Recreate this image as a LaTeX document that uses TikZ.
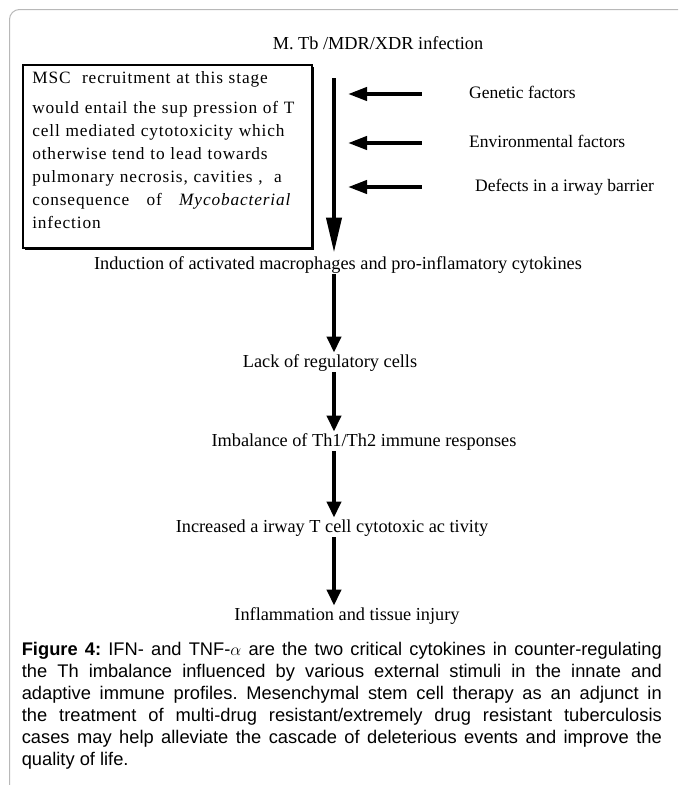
\documentclass[tikz,border=0pt]{standalone}
\usepackage{fontspec}
\setmainfont{Liberation Serif}
\newfontfamily\capfont{Liberation Sans}
\newfontfamily\boxfont[LetterSpace=5]{Liberation Serif}
\usetikzlibrary{arrows.meta,shadows}

\tikzset{
	flowtext/.style={inner sep=0pt, text height=12.5pt, text depth=4pt, font=\fontsize{18.3}{21}\selectfont},
	sidetext/.style={flowtext, anchor=west, font=\fontsize{17.5}{21}\selectfont},
	mscbox/.style={draw, fill=white, line width=1.6pt, anchor=north west, text width=270pt, inner xsep=9.5pt, inner ysep=6.5pt, align=left,
		drop shadow={shadow xshift=2.2pt, shadow yshift=-2.2pt, fill=black, opacity=1},
		font=\boxfont\fontsize{17.3}{23}\selectfont},
	captext/.style={anchor=north west, inner sep=0pt, text width=640pt, align=justify,
		font=\capfont\fontsize{18.3}{22}\selectfont},
	flowarrow/.style={line width=4pt, -{Triangle[length=16pt,width=14pt]}, shorten <=1pt, shorten >=2pt},
	sidearrow/.style={line width=4pt, -{Triangle[length=19pt,width=13pt]}}
}

\begin{document}
\begin{tikzpicture}[x=1pt,y=-1pt]
			%%%%% START %%%%%
			\useasboundingbox (0,0) rectangle (678,785);
			\clip (0,0) rectangle (678,785);
			
			% outer frame
			\draw[black!28, line width=1pt, rounded corners=10pt] (9.5,9.5) rectangle (700,800);
			
			\node[flowtext] (title) at (378,45) {M. Tb /MDR/XDR infection};
			
			\node[mscbox] (msc) at (22,64) {\hyphenpenalty=10000 MSC\ \ recruitment at this stage\\[7pt]
				would entail the sup pression of T\\
				cell mediated cytotoxicity which\\
				otherwise tend to lead towards\\
				pulmonary necrosis, cavities ,\ \ a\\
				consequence\ \ \ of\ \ \ \textit{Mycobacterial}\\
				infection\\[-10pt]\mbox{}};
			
			\node[sidetext] (genetic) at (469,94) {Genetic factors};
			\node[sidetext] (environ) at (469,143) {Environmental factors};
			\node[sidetext] (defects) at (475,187) {Defects in a irway barrier};
			
			\node[flowtext] (induction) at (338,265) {Induction of activated macrophages and pro-inflamatory cytokines};
			\node[flowtext] (lack) at (330,363) {Lack of regulatory cells};
			\node[flowtext] (imbalance) at (364,442) {Imbalance of Th1/Th2 immune responses};
			\node[flowtext] (increased) at (332,528) {Increased a irway T cell cytotoxic ac tivity};
			\node[flowtext] (inflam) at (347,616) {Inflammation and tissue injury};
			
			\coordinate (spine) at (334,0);
			\coordinate (tipx) at (348,0);
			\coordinate (tailx) at (421.5,0);
			
			\draw[flowarrow, -{Triangle[length=35pt,width=15pt]}, shorten <=25pt, shorten >=4pt] (title.south -| spine) -- (induction.north -| spine);
			\draw[flowarrow] (induction.south -| spine) -- (lack.north -| spine);
			\draw[flowarrow] (lack.south -| spine) -- (imbalance.north -| spine);
			\draw[flowarrow] (imbalance.south -| spine) -- (increased.north -| spine);
			\draw[flowarrow] (increased.south -| spine) -- (inflam.north -| spine);
			
			\draw[sidearrow] (genetic.west -| tailx) -- (genetic.west -| tipx);
			\draw[sidearrow] (environ.west -| tailx) -- (environ.west -| tipx);
			\draw[sidearrow] (defects.west -| tailx) -- (defects.west -| tipx);
			
			\node[captext] (caption) at (21.6,642) {\hyphenpenalty=10000 \exhyphenpenalty=10000 \frenchspacing
				\textbf{Figure 4:} IFN- and TNF-$\alpha$ are the two critical cytokines in counter-regulating\linebreak
				the Th imbalance influenced by various external stimuli in the innate and\linebreak
				adaptive immune profiles. Mesenchymal stem cell therapy as an adjunct in\linebreak
				the treatment of multi-drug resistant/extremely drug resistant tuberculosis\linebreak
				cases may help alleviate the cascade of deleterious events and improve the\linebreak
				quality of life.};
			
			%%%%% END %%%%%
\end{tikzpicture}
\end{document}
